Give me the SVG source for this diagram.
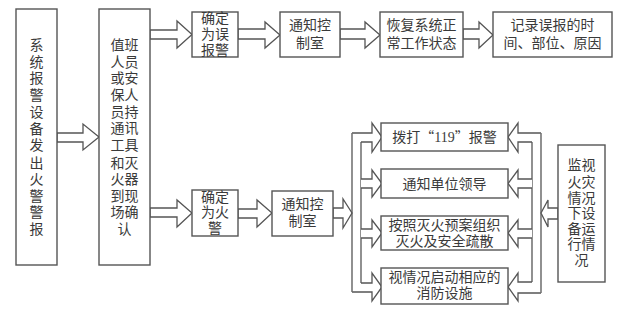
<svg xmlns="http://www.w3.org/2000/svg" width="640" height="314" viewBox="0 0 640 314">
<style>
.b{fill:#fff;stroke:#555;stroke-width:1.4}
.a{fill:#fff;stroke:#555;stroke-width:1.3;stroke-linejoin:miter}
.l{fill:none;stroke:#555;stroke-width:1.3}
text{font-family:"Liberation Serif","Noto Sans CJK SC",serif;font-size:14px;fill:#3a3a3a;text-anchor:middle}
.q{font-family:"Noto Sans CJK SC",sans-serif}
</style>
<rect width="640" height="314" fill="#fff"/>
<g id="connectors">
<path class="a" d="M57,133 H83 V124 L99,137 L83,150 V142 H57 Z"/>
<path class="a" d="M150,30 H177 V21 L192,34.5 L177,48 V39 H150 Z"/>
<path class="a" d="M238,29 H265 V22 L280,35 L265,48 V39 H238 Z"/>
<path class="a" d="M340,29 H365 V22 L380,35 L365,48 V39 H340 Z"/>
<path class="a" d="M463,29 H479 V22 L493,35 L479,48 V39 H463 Z"/>
<path class="a" d="M150,208 H177 V200 L192,213 L177,227 V217 H150 Z"/>
<path class="a" d="M238,209 H257 V200 L272,213 L257,227 V218 H238 Z"/>
<path class="a" d="M333,208 H343 V199 L352,213 L343,228 V218 H333 Z"/>
<line class="l" x1="352" y1="133" x2="352" y2="292"/>
<line class="l" x1="361" y1="142" x2="361" y2="283"/>
<path class="a" d="M352,133 H372 V123 L382,137 L372,152 V142 H361"/>
<path class="a" d="M361,179 H372 V170 L382,183.5 L372,197 V188 H361"/>
<path class="a" d="M361,229 H372 V220 L382,233 L372,247 V238 H361"/>
<path class="a" d="M361,283 H372 V273 L382,287 L372,301 V292 H352"/>
<line class="l" x1="541" y1="133" x2="541" y2="293"/>
<line class="l" x1="532" y1="142" x2="532" y2="282"/>
<path class="a" d="M541,133 H518 V123 L508,137 L518,152 V142 H532"/>
<path class="a" d="M532,179 H518 V170 L508,183.5 L518,197 V188 H532"/>
<path class="a" d="M532,229 H518 V220 L508,233 L518,247 V238 H532"/>
<path class="a" d="M532,282 H518 V273 L508,287 L518,301 V293 H541"/>
<path class="a" d="M558,208 H548 V200 L541,213 L548,227 V219 H558 Z"/>
</g>
<g id="n1">
<rect class="b" x="16" y="9" width="41" height="256"/>
<text x="36.5" y="50">系</text><text x="36.5" y="67">统</text><text x="36.5" y="83">报</text><text x="36.5" y="100">警</text><text x="36.5" y="117">设</text><text x="36.5" y="134">备</text><text x="36.5" y="150">发</text><text x="36.5" y="168">出</text><text x="36.5" y="184">火</text><text x="36.5" y="201">警</text><text x="36.5" y="217">警</text><text x="36.5" y="234">报</text>
</g>
<g id="n2">
<rect class="b" x="99" y="9" width="51" height="256"/>
<text x="124.5" y="50">值班</text><text x="124.5" y="67">人员</text><text x="124.5" y="83">或安</text><text x="124.5" y="100">保人</text><text x="124.5" y="117">员持</text><text x="124.5" y="133">通讯</text><text x="124.5" y="150">工具</text><text x="124.5" y="168">和灭</text><text x="124.5" y="184">火器</text><text x="124.5" y="201">到现</text><text x="124.5" y="217">场确</text><text x="124.5" y="234">认</text>
</g>
<g id="n3">
<rect class="b" x="192" y="12" width="46" height="45"/>
<text x="215" y="23">确定</text><text x="215" y="39">为误</text><text x="215" y="55">报警</text>
</g>
<g id="n4">
<rect class="b" x="280" y="12" width="60" height="45"/>
<text x="310" y="30">通知控</text><text x="310" y="48">制室</text>
</g>
<g id="n5">
<rect class="b" x="380" y="12" width="83" height="45"/>
<text x="421.5" y="30">恢复系统正</text><text x="421.5" y="48">常工作状态</text>
</g>
<g id="n6">
<rect class="b" x="493" y="12" width="119" height="45"/>
<text x="552.5" y="30">记录误报的时</text><text x="552.5" y="48">间、部位、原因</text>
</g>
<g id="n7">
<rect class="b" x="192" y="190" width="46" height="46"/>
<text x="215" y="202">确定</text><text x="215" y="217">为火</text><text x="215" y="233">警</text>
</g>
<g id="n8">
<rect class="b" x="272" y="191" width="61" height="45"/>
<text x="302.5" y="209">通知控</text><text x="302.5" y="226">制室</text>
</g>
<g id="n9">
<rect class="b" x="381" y="123" width="127" height="28"/>
<text x="444.5" y="142">拨打<tspan class="q">“</tspan>119<tspan class="q">”</tspan>报警</text>
</g>
<g id="n10">
<rect class="b" x="381" y="169" width="127" height="29"/>
<text x="444.5" y="188.5">通知单位领导</text>
</g>
<g id="n11">
<rect class="b" x="381" y="216" width="127" height="34"/>
<text x="444.5" y="230">按照灭火预案组织</text><text x="444.5" y="246">灭火及安全疏散</text>
</g>
<g id="n12">
<rect class="b" x="381" y="268" width="127" height="36"/>
<text x="444.5" y="282">视情况启动相应的</text><text x="444.5" y="298">消防设施</text>
</g>
<g id="n13">
<rect class="b" x="558" y="145" width="47" height="137"/>
<text x="581.5" y="170">监视</text><text x="581.5" y="187">火灾</text><text x="581.5" y="203">情况</text><text x="581.5" y="218">下设</text><text x="581.5" y="234">备运</text><text x="581.5" y="249">行情</text><text x="581.5" y="265">况</text>
</g>
</svg>
